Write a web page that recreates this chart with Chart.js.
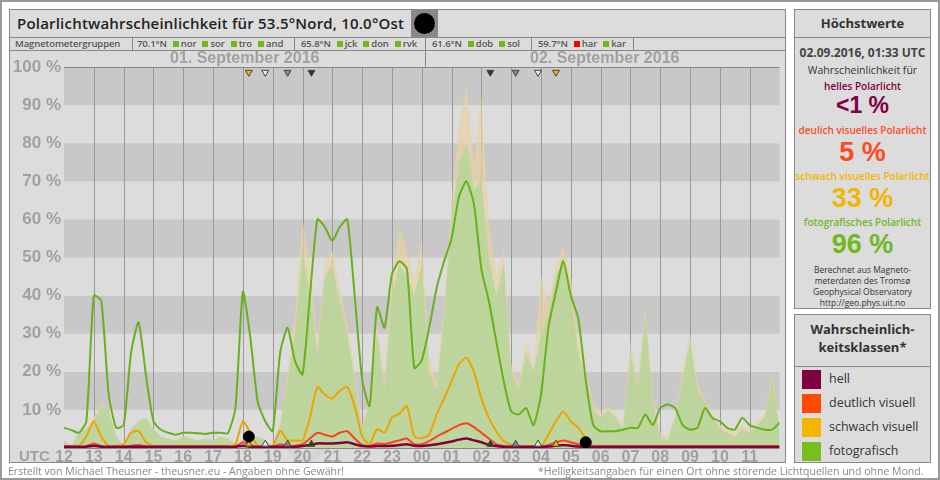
<!DOCTYPE html>
<html><head><meta charset="utf-8">
<script src="https://cdn.jsdelivr.net/npm/chart.js@4"></script>
<style>
body{margin:0;width:940px;height:480px;background:#fff;font-family:"Open Sans",sans-serif;position:relative;overflow:hidden}
.abs{position:absolute;box-sizing:border-box}
#outer{left:0;top:0;width:940px;height:480px;border:2px solid #999;}
.panel{background:#dcdcdc;border:1px solid #888}
#title{left:9px;top:9px;width:777px;height:29px;}
#title span{position:absolute;left:7px;top:3px;font-size:15px;font-weight:600;color:#222;letter-spacing:0.2px}
#moon{left:411px;top:9px;width:27px;height:29px;background:#888}
#moon div{position:absolute;left:3px;top:4px;width:21px;height:21px;border-radius:50%;background:#000}
#mag{left:9px;top:37px;width:777px;height:14px;font-size:9.5px;font-weight:600;color:#555;line-height:12px;letter-spacing:-0.1px}
#mag span{position:absolute;top:0;white-space:nowrap}
#mag b{font-weight:600;margin-left:6px}
.sq{display:inline-block;width:6px;height:6px;background:#6fb81f;margin-right:2px}
.sep{position:absolute;top:0;width:1px;height:13px;background:#888}
.date{top:49px;font:bold 16px "Liberation Sans",Arial;color:#a0a0a0}
#cw{left:9px;top:50px;width:777px;height:413px;background:#dcdcdc;border:1px solid #888}
#c{position:absolute;left:0;top:0}
#right1{left:794px;top:9px;width:137px;height:300px;text-align:center;color:#333}
#right2{left:794px;top:314px;width:137px;height:149px;}
.hd{border-bottom:1px solid #888;font-weight:700;color:#333}
.big{font:bold 23px "Liberation Sans",Arial;line-height:24px}
.lg{position:absolute;left:7px;width:19px;height:19px}
.lt{position:absolute;left:34px;font-size:12.5px;color:#333}
</style></head><body>
<div class="abs" id="outer"></div>
<div class="abs panel" id="cw"></div>
<div class="abs panel" id="title"><span>Polarlichtwahrscheinlichkeit für 53.5°Nord, 10.0°Ost</span></div>
<div class="abs" id="moon"><div></div></div>
<div class="abs panel" id="mag">
<span style="left:5px">Magnetometergruppen</span><div class="sep" style="left:122px"></div>
<span style="left:127px">70.1°N<b><i class="sq"></i>nor</b><b><i class="sq"></i>sor</b><b><i class="sq"></i>tro</b><b><i class="sq"></i>and</b></span><div class="sep" style="left:284px"></div>
<span style="left:291px">65.8°N<b><i class="sq"></i>jck</b><b><i class="sq"></i>don</b><b><i class="sq"></i>rvk</b></span><div class="sep" style="left:415px"></div>
<span style="left:422px">61.6°N<b><i class="sq"></i>dob</b><b><i class="sq"></i>sol</b></span><div class="sep" style="left:521px"></div>
<span style="left:528px">59.7°N<b><i class="sq" style="background:#f00"></i>har</b><b><i class="sq"></i>kar</b></span><div class="sep" style="left:623px"></div>
</div>
<div class="abs" style="left:260px;top:290px;font:bold 70px 'Liberation Sans',Arial;color:rgba(0,0,0,0.03);transform:rotate(-35deg);transform-origin:0 0;top:420px;white-space:nowrap">EXPERIMENTELL</div>
<div class="abs" style="left:10px;top:51px;width:776px;height:420px"><canvas id="c" width="776" height="420"></canvas></div>
<div class="abs date" style="left:170px">01. September 2016</div>
<div class="abs date" style="left:530px">02. September 2016</div>
<div class="abs" style="left:425px;top:50px;width:1px;height:17px;background:#888"></div>
<div class="abs" style="left:19px;top:447px;font:bold 15px 'Liberation Sans',Arial;color:#a0a0a0">UTC</div>
<div class="abs" style="left:8px;top:464px;font-size:10.5px;color:#888">Erstellt von Michael Theusner - theusner.eu - Angaben ohne Gewähr!</div>
<div class="abs" style="left:538px;top:464px;font-size:10.5px;color:#888;white-space:nowrap">*Helligkeitsangaben für einen Ort ohne störende Lichtquellen und ohne Mond.</div>
<div class="abs panel" id="right1">
<div class="hd" style="height:27px;line-height:27px;font-size:13px">Höchstwerte</div>
<div style="font-size:12px;font-weight:700;margin-top:6px;color:#444">02.09.2016, 01:33 UTC</div>
<div style="font-size:10.5px;margin-top:2px">Wahrscheinlichkeit für</div>
<div style="font-size:10px;font-weight:600;color:#800040;margin-top:2px">helles Polarlicht</div>
<div class="big" style="color:#800040">&lt;1 %</div>
<div style="font-size:10px;font-weight:600;color:#ff4b1e;margin-top:6px">deulich visuelles Polarlicht</div>
<div class="big" style="color:#ff4b1e;font-size:27px;line-height:30px">5 %</div>
<div style="font-size:10px;font-weight:600;color:#f5b400;margin-top:2px">schwach visuelles Polarlicht</div>
<div class="big" style="color:#f5b400;font-size:27px;line-height:30px">33 %</div>
<div style="font-size:10px;font-weight:600;color:#6fb81f;margin-top:2px">fotografisches Polarlicht</div>
<div class="big" style="color:#6fb81f;font-size:27px;line-height:30px">96 %</div>
<div style="font-size:8.5px;line-height:11px;margin-top:5px">Berechnet aus Magneto-<br>meterdaten des Tromsø<br>Geophysical Observatory<br>http://geo.phys.uit.no</div>
</div>
<div class="abs panel" id="right2">
<div class="hd" style="height:46px;text-align:center;font-size:13px;line-height:18px;padding-top:5px">Wahrscheinlich-<br>keitsklassen*</div>
<div class="lg" style="top:55px;background:#800040"></div><div class="lt" style="top:55px">hell</div>
<div class="lg" style="top:79px;background:#ff4a00"></div><div class="lt" style="top:79px">deutlich visuell</div>
<div class="lg" style="top:103px;background:#f5b400"></div><div class="lt" style="top:103px">schwach visuell</div>
<div class="lg" style="top:127px;background:#78be1e"></div><div class="lt" style="top:127px">fotografisch</div>
</div>
<script>
// hours since 01.09. 12:00 UTC, 15-minute steps
const hourLabels=['12','13','14','15','16','17','18','19','20','21','22','23','00','01','02','03','04','05','06','07','08','09','10','11'];
const fotoLine=[5.3,4.7,4,7, 40,38.6,14,5.3, 6,25,33,19, 7,4.8,4,3.5, 4,4,3.9,3.7, 4,4,3.9,10.5, 41,29,12,7, 4.4,25,31.6,22.8, 19.3,40,60,58, 54.4,58,60,40, 18,11,37,31.6, 45.6,49,47,21, 23,31.6,42,49, 55,66,70,64, 47,38.6,28,17.5, 9.6,8.8,10.5,6, 14,31.6,41,49, 40,34,18,6, 4.4,4.4,4.4,4.8, 5.3,5.3,8.8,6, 10.5,11.4,10.5,6, 4.8,5.3,10.5,7.9, 7,5.3,4.8,7.9, 6,5.3,4.8,4.8, 6.6];
const schwach=[0.5,0.5,0.5,3, 7,3,0.5,0.5, 1,4,4.5,1.5, 0.5,0.5,0.5,0.5, 0.5,0.5,0.5,0.5, 0.5,0.5,0.5,1, 7,4,0.5,0.5, 0.5,4.5,2,2, 2,8,16,14, 13,15,16,11, 3,1,5,4, 8,9,11,3, 2.6,3.5,8.8,13, 17.5,22,23.7,20, 13,7.9,4.4,1.8, 0.9,0.4,0.4,0.4, 0.4,3.5,7,9.6, 7,5.3,2.6,0.5, 0.5,0.5,0.5,0.5, 0.5,0.5,0.5,0.5, 0.5,0.5,0.5,0.5, 0.5,0.5,0.5,0.5, 0.5,0.5,0.5,0.5, 0.5,0.5,0.5,0.5, 0.5];
const deutlich=[.3,.3,.3,.5, 1.2,.5,.3,.3, .3,.6,.8,.4, .3,.3,.3,.3, .3,.3,.3,.3, .3,.3,.3,.4, 1.5,.8,.3,.3, .3,1,.6,.6, 1,2.5,4,3.5, 3,4,4.4,2.5, .8,.5,1.2,1, 1.5,2,2.5,1, 1,1.8,3,4, 5,6,6.5,5.5, 4,2.5,1,.5, .3,.3,.3,.3, .3,.8,1.5,2, 1.5,1,.5,.3, .3,.3,.3,.3, .3,.3,.3,.3, .3,.3,.3,.3, .3,.3,.3,.3, .3,.3,.3,.3, .3,.3,.3,.3, .3];
const hell=[.3,.3,.3,.3, .6,.3,.3,.3, .3,.3,.3,.3, .3,.3,.3,.3, .3,.3,.3,.3, .3,.3,.3,.3, .6,.3,.3,.3, .3,.3,.3,.3, .5,.8,1.2,1.2, 1.2,1.3,1.5,1, .5,.4,.5,.5, .6,.8,1,.6, .5,.7,1,1.3, 1.7,2.2,2.5,2, 1.5,.8,.5,.3, .3,.3,.3,.3, .3,.4,.6,.8, .6,.4,.3,.3, .3,.3,.3,.3, .3,.3,.3,.3, .3,.3,.3,.3, .3,.3,.3,.3, .3,.3,.3,.3, .3,.3,.3,.3, .3];
const fotoArea=[2,0.5,4,5, 7,11,10,3, 0.5,5,7,8, 5,3,2.5,2, 3,2.5,2,2.5, 2,3,2.5,1, 1.5,2,3,2, 0.5,6,18,30, 52,40,25,45, 48,38,30,18, 5,12,30,15, 40,48,45,40, 48,20,15,35, 60,75,80,68, 70,50,40,48, 20,15,25,20, 30,35,45,50, 40,25,18,10, 8,10,8,5, 25,15,35,12, 3,2,8,18, 28,15,12,8, 5,4,3,5, 4,6,8,18, 5];
const peakArea=[2,0.5,4,5, 8,12,10,3, 0.5,5,7,8, 5,3,2.5,2, 3,2.5,2,2.5, 2,3,2.5,1, 1.5,2,3,2, 0.5,7,20,35, 60,48,28,48, 52,42,33,20, 6,14,33,18, 45,58,52,44, 55,24,18,38, 65,85,95,75, 92,60,45,52, 22,17,28,22, 45,38,48,53, 45,28,20,12, 9,11,9,6, 28,17,37,14, 4,3,9,20, 30,17,13,9, 6,5,4,6, 5,7,9,20, 6];
const markerX=[6.2,6.75,7.5,8.3,14.3,15.15,15.9,16.5];
const markerColors=['#f5b400','#eeeeee','#888888','#333333','#333333','#888888','#eeeeee','#f5b400'];
const dotX=[6.2,17.5], dotY=[3,1.5];

const pts=a=>a.map((v,i)=>({x:i/4,y:v}));
const bands={id:'bands',beforeDatasetsDraw(ch){const {ctx,chartArea:a,scales:{y}}=ch;ctx.save();
 for(let v=0;v<100;v+=10){ctx.fillStyle=(v/10)%2?'#c8c8c8':'#dcdcdc';const t=y.getPixelForValue(v+10),b=y.getPixelForValue(v);ctx.fillRect(a.left,t,a.right-a.left,b-t);}
 ctx.strokeStyle='#999';ctx.lineWidth=1;const x=ch.scales.x;
 for(let h=1;h<24;h++){const px=Math.round(x.getPixelForValue(h))+0.5;ctx.beginPath();ctx.moveTo(px,a.top);ctx.lineTo(px,a.bottom);ctx.stroke();}
 ctx.strokeStyle='#888';ctx.beginPath();ctx.moveTo(a.left,a.top+0.5);ctx.lineTo(a.right,a.top+0.5);ctx.moveTo(a.left,a.bottom+0.5);ctx.lineTo(a.right,a.bottom+0.5);ctx.stroke();
 ctx.restore();}};
const line=(d,c,o,w)=>({data:pts(d),borderColor:c,borderWidth:w||2,pointRadius:0,tension:0.2,fill:false,order:o});
new Chart(document.getElementById('c'),{type:'line',
 data:{datasets:[
  {data:pts(peakArea),borderColor:'rgba(0,0,0,0)',backgroundColor:'rgba(232,210,160,0.7)',fill:'origin',pointRadius:0,tension:0,order:7,borderWidth:0},
  {data:pts(fotoArea),borderColor:'rgba(0,0,0,0)',backgroundColor:'rgba(186,214,155,0.92)',fill:'origin',pointRadius:0,tension:0,order:6,borderWidth:0},
  line(fotoLine,'#6aaf1c',5),
  line(schwach,'#eca400',4),
  line(deutlich,'#ff4020',3),
  line(hell,'#800040',2,2.5),
  {type:'scatter',data:markerX.map(x=>({x,y:98.6})),pointStyle:'triangle',rotation:180,pointRadius:4,pointBackgroundColor:markerColors,pointBorderColor:'#444',pointBorderWidth:1,order:1},
  {type:'scatter',data:markerX.map(x=>({x,y:1})),pointStyle:'triangle',pointRadius:4,pointBackgroundColor:markerColors,pointBorderColor:'#444',pointBorderWidth:1,order:1},
  {type:'scatter',data:dotX.map((x,i)=>({x,y:dotY[i]})),pointRadius:5.5,pointBackgroundColor:'#000',pointBorderColor:'#000',order:0}
 ]},
 options:{responsive:false,animation:false,events:[],layout:{padding:{top:16,right:0,left:0,bottom:0}},
  plugins:{legend:{display:false},tooltip:{enabled:false}},
  scales:{
   x:{type:'linear',min:0,max:24,afterFit(s){s.height=23;},grid:{display:false,drawTicks:false},border:{display:false},
      ticks:{stepSize:1,autoSkip:false,maxRotation:0,padding:0,color:'#a0a0a0',font:{family:'Liberation Sans',size:16,weight:'bold'},callback:v=>v<24?hourLabels[v]:''}},
   y:{min:0,max:100,afterFit(s){s.width=54;},grid:{display:false,drawTicks:false},border:{display:false},
      ticks:{stepSize:10,padding:3,color:'#a0a0a0',font:{family:'Liberation Sans',size:17,weight:'bold'},callback:v=>v>0?v+' %':''}}
  }},
 plugins:[bands]});
</script></body></html>
